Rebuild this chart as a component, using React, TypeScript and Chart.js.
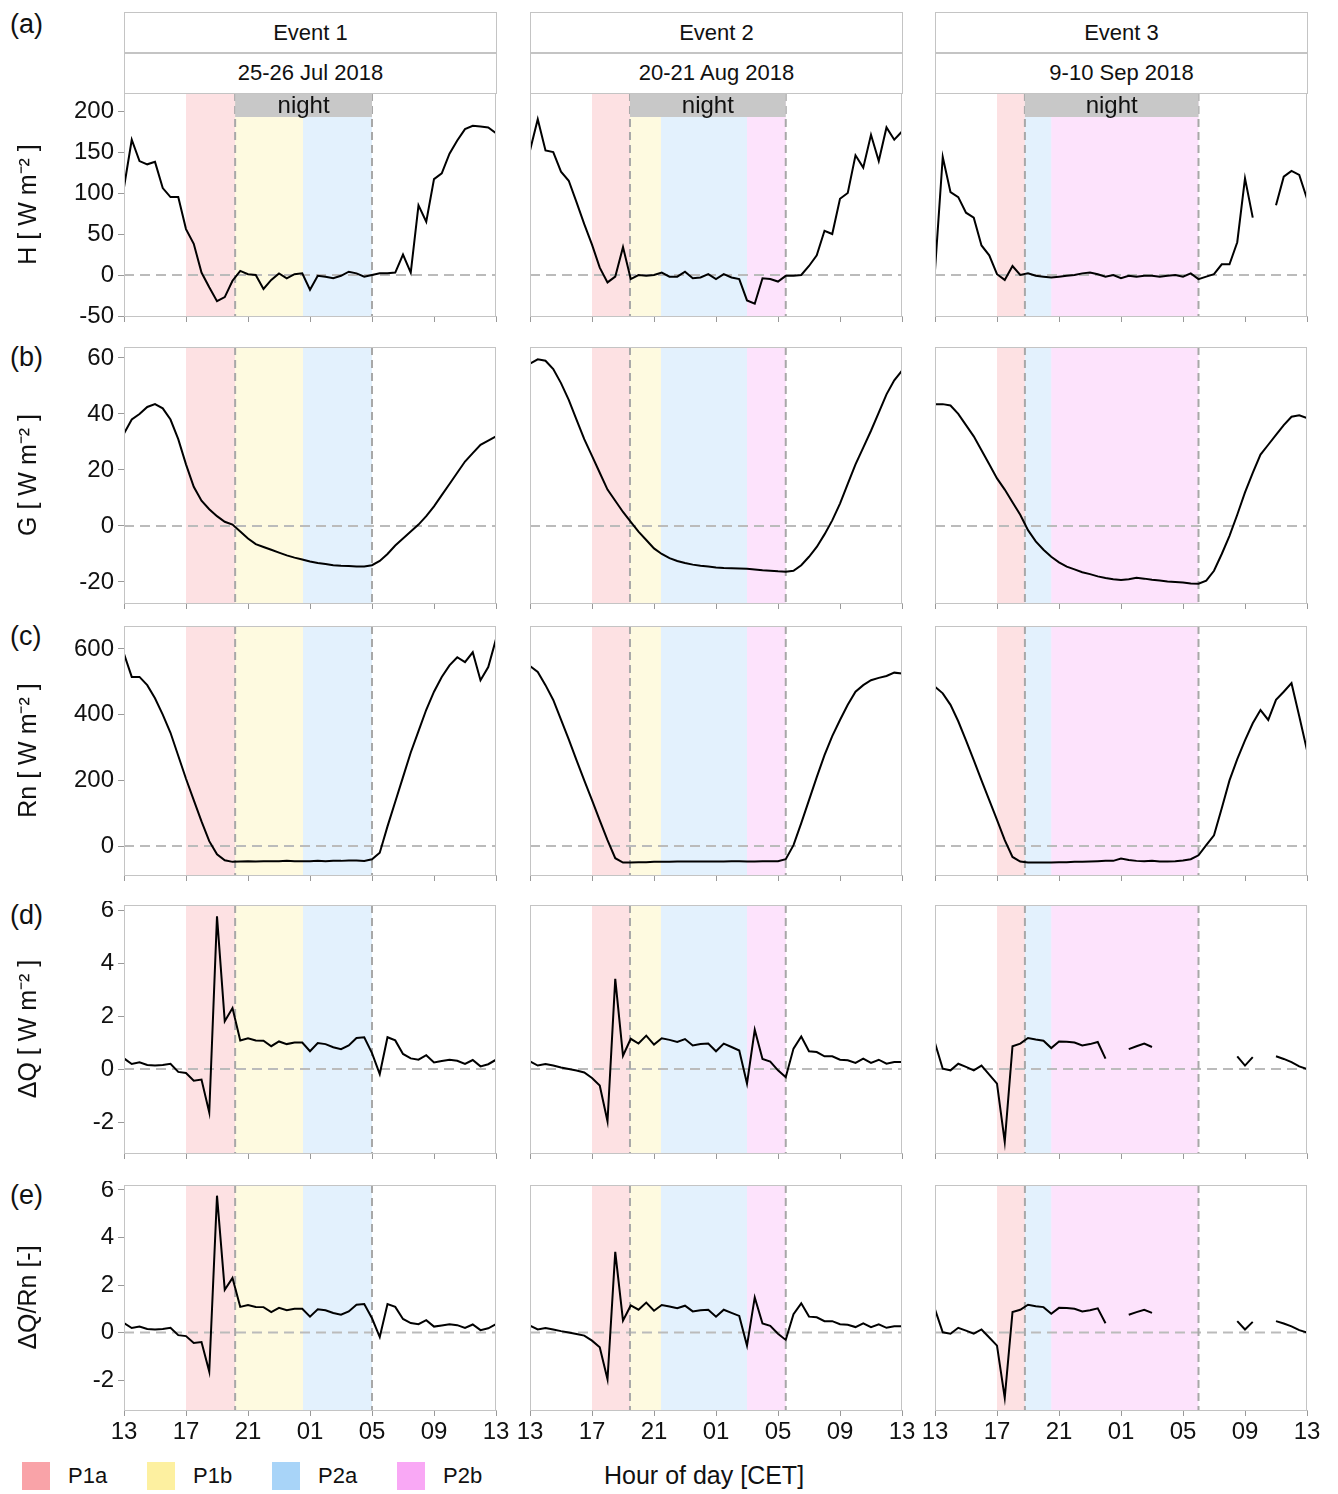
import { Chart, registerables } from 'chart.js'
import { useEffect, useRef } from 'react'

Chart.register(...registerables)

const FONT = '"Liberation Sans", Arial, sans-serif'
Chart.defaults.font.family = FONT

// half-hourly values, 13:00 -> 13:00 next day
const h1 = [107, 165, 139, 135, 138, 106, 95, 95, 56, 38, 3, -15, -32, -27, -7, 5, 1, 0, -17, -6, 2, -4, 1, 2, -18, -1, -2, -4, -1, 4, 2, -2, 0, 2, 2, 3, 25, 3, 85, 65, 117, 124, 148, 164, 178, 182, 181, 180, 173]
const h2 = [152, 190, 152, 150, 126, 115, 89, 62, 37, 9, -9, -2, 34, -5, 0, -1, 0, 3, -2, -2, 4, -4, -3, 1, -5, 1, -3, -5, -31, -35, -4, -5, -8, -1, -1, 0, 11, 24, 54, 50, 93, 100, 146, 131, 171, 139, 180, 165, 175]
const h3 = [6, 144, 101, 95, 76, 70, 36, 24, 1, -6, 11, 0, 2, -1, -2, -3, -2, -1, 0, 2, 3, 1, -2, 0, -4, -1, -2, -1, -1, -2, -1, 0, -2, 2, -5, -2, 1, 13, 13, 40, 118, 70, null, null, 85, 120, 127, 122, 93]

const g1 = [33, 38, 40, 42.5, 43.5, 42, 38, 31, 22, 14, 9, 6, 3.5, 1.5, 0.5, -2, -4.5, -6.5, -7.5, -8.5, -9.5, -10.5, -11.3, -12, -12.7, -13.2, -13.6, -14, -14.2, -14.3, -14.5, -14.5, -14, -12.5, -10, -7, -4.5, -2, 0.5, 3.5, 7, 11, 15, 19, 23, 26, 29, 30.5, 32]
const g2 = [58, 59.5, 59, 56, 51, 45, 38, 31, 25, 19, 13, 9, 5, 1.5, -2, -5, -8, -10, -11.5, -12.5, -13.2, -13.8, -14.2, -14.5, -14.8, -15, -15.1, -15.2, -15.3, -15.5, -15.8, -16, -16.2, -16.3, -16, -14, -11, -7.5, -3, 2, 8, 15, 22, 28, 34, 40.5, 47, 52, 55.5]
const g3 = [43.5, 43.5, 43, 40, 36, 32, 27, 22, 17, 13, 8.5, 4, -1.5, -5.5, -8.5, -11, -13, -14.5, -15.5, -16.5, -17.2, -18, -18.6, -19, -19.3, -19, -18.5, -18.8, -19.2, -19.5, -19.8, -20, -20.2, -20.5, -20.6, -19.5, -16, -10, -3.5, 4, 12, 19, 25.5, 29, 32.5, 36, 39, 39.5, 38.5]

const rn1 = [585, 515, 515, 490, 450, 400, 345, 275, 205, 140, 75, 15, -25, -43, -48, -47, -46, -47, -46, -46, -46, -45, -46, -46, -46, -45, -46, -45, -45, -44, -44, -45, -40, -20, 60, 135, 210, 285, 350, 415, 470, 515, 550, 575, 560, 590, 505, 545, 630]
const rn2 = [548, 530, 490, 445, 385, 325, 262, 200, 140, 78, 18, -37, -50, -50, -49, -49, -48, -48, -48, -47, -47, -47, -47, -47, -47, -47, -46, -46, -47, -47, -46, -46, -46, -40, 3, 70, 140, 210, 277, 335, 384, 430, 470, 490, 505, 512, 518, 528, 525]
const rn3 = [485, 465, 430, 380, 322, 262, 200, 140, 80, 18, -33, -47, -50, -50, -50, -50, -49, -49, -48, -48, -47, -46, -45, -45, -38, -42, -45, -46, -45, -47, -47, -46, -44, -40, -28, 3, 33, 115, 200, 265, 322, 374, 414, 384, 445, 470, 496, 395, 292]

const dq1 = [0.4, 0.19, 0.25, 0.15, 0.13, 0.15, 0.2, -0.11, -0.15, -0.44, -0.4, -1.64, 5.76, 1.8, 2.3, 1.08, 1.16, 1.08, 1.07, 0.86, 1.04, 0.94, 1.0, 1.0, 0.67, 0.98, 0.94, 0.82, 0.75, 0.89, 1.17, 1.2, 0.6, -0.19, 1.2, 1.08, 0.57, 0.4, 0.35, 0.52, 0.25, 0.3, 0.35, 0.31, 0.19, 0.34, 0.1, 0.18, 0.35]
const dq2 = [0.29, 0.13, 0.19, 0.13, 0.06, 0, -0.06, -0.13, -0.34, -0.62, -1.97, 3.4, 0.5, 1.14, 0.96, 1.26, 0.92, 1.16, 1.1, 1.02, 1.13, 0.89, 0.94, 0.96, 0.67, 0.96, 0.83, 0.7, -0.55, 1.48, 0.38, 0.28, -0.05, -0.31, 0.77, 1.23, 0.67, 0.64, 0.48, 0.48, 0.35, 0.33, 0.23, 0.39, 0.23, 0.35, 0.2, 0.26, 0.26]
const dq3 = [0.98, 0.01, -0.05, 0.2, 0.08, -0.05, 0.13, -0.21, -0.55, -2.75, 0.86, 0.96, 1.17, 1.11, 1.07, 0.79, 1.04, 1.03, 1.0, 0.89, 0.94, 1.02, 0.39, null, null, 0.75, 0.86, 0.96, 0.83, null, null, null, null, null, null, null, null, null, null, 0.48, 0.13, 0.45, null, null, 0.48, 0.38, 0.26, 0.1, 0]

const dqrn1 = [0.4, 0.19, 0.25, 0.15, 0.13, 0.15, 0.2, -0.11, -0.15, -0.44, -0.4, -1.64, 5.76, 1.8, 2.3, 1.08, 1.16, 1.08, 1.07, 0.86, 1.04, 0.94, 1.0, 1.0, 0.67, 0.98, 0.94, 0.82, 0.75, 0.89, 1.17, 1.2, 0.6, -0.19, 1.2, 1.08, 0.57, 0.4, 0.35, 0.52, 0.25, 0.3, 0.35, 0.31, 0.19, 0.34, 0.1, 0.18, 0.35]
const dqrn2 = [0.29, 0.13, 0.19, 0.13, 0.06, 0, -0.06, -0.13, -0.34, -0.62, -1.97, 3.4, 0.5, 1.14, 0.96, 1.26, 0.92, 1.16, 1.1, 1.02, 1.13, 0.89, 0.94, 0.96, 0.67, 0.96, 0.83, 0.7, -0.55, 1.48, 0.38, 0.28, -0.05, -0.31, 0.77, 1.23, 0.67, 0.64, 0.48, 0.48, 0.35, 0.33, 0.23, 0.39, 0.23, 0.35, 0.2, 0.26, 0.26]
const dqrn3 = [0.98, 0.01, -0.05, 0.2, 0.08, -0.05, 0.13, -0.21, -0.55, -2.75, 0.86, 0.96, 1.17, 1.11, 1.07, 0.79, 1.04, 1.03, 1.0, 0.89, 0.94, 1.02, 0.39, null, null, 0.75, 0.86, 0.96, 0.83, null, null, null, null, null, null, null, null, null, null, 0.48, 0.13, 0.45, null, null, 0.48, 0.38, 0.26, 0.1, 0]

const events = ['Event 1', 'Event 2', 'Event 3']
const dates = ['25-26 Jul 2018', '20-21 Aug 2018', '9-10 Sep 2018']
// periods in hours after 13:00
const periods1 = [['P1a', 4, 7.17], ['P1b', 7.17, 11.55], ['P2a', 11.55, 16]]
const periods2 = [['P1a', 4, 6.45], ['P1b', 6.45, 8.45], ['P2a', 8.45, 14], ['P2b', 14, 16.5]]
const periods3 = [['P1a', 4, 5.8], ['P2a', 5.8, 7.5], ['P2b', 7.5, 17]]
const nights = [[7.17, 16], [6.45, 16.5], [5.8, 17]]
const xTicks = [0, 4, 8, 12, 16, 20, 24]

const periodFill: Record<string, string> = {
  P1a: 'rgba(249,163,168,0.32)', P1b: 'rgba(253,240,160,0.32)',
  P2a: 'rgba(168,212,248,0.32)', P2b: 'rgba(249,168,245,0.32)',
}
const legendColor: Record<string, string> = {
  P1a: '#f9a3a8', P1b: '#fdf0a0', P2a: '#a8d4f8', P2b: '#f9a8f5',
}

const cols = [124, 530, 935]
const colW = 372
const rows = [
  { top: 93, h: 223, min: -50, max: 222, ticks: [-50, 0, 50, 100, 150, 200], title: 'H [ W m⁻² ]', data: [h1, h2, h3], letter: '(a)', ly: 25 },
  { top: 347, h: 256, min: -27.5, max: 63.9, ticks: [-20, 0, 20, 40, 60], title: 'G [ W m⁻² ]', data: [g1, g2, g3], letter: '(b)', ly: 358 },
  { top: 626, h: 249, min: -88, max: 670, ticks: [0, 200, 400, 600], title: 'Rn [ W m⁻² ]', data: [rn1, rn2, rn3], letter: '(c)', ly: 637 },
  { top: 905, h: 248, min: -3.17, max: 6.19, ticks: [-2, 0, 2, 4, 6], title: 'ΔQ [ W m⁻² ]', data: [dq1, dq2, dq3], letter: '(d)', ly: 916 },
  { top: 1185, h: 225, min: -3.26, max: 6.21, ticks: [-2, 0, 2, 4, 6], title: 'ΔQ/Rn [-]', data: [dqrn1, dqrn2, dqrn3], letter: '(e)', ly: 1196 },
]
const allPeriods = [periods1, periods2, periods3]

interface PanelProps { row: number; col: number }

function Panel({ row, col }: PanelProps) {
  const ref = useRef<HTMLCanvasElement | null>(null)
  const r = rows[row]
  const L = col === 0 ? 124 : 20
  const R = 20
  const T = 4
  const B = row === 4 ? 44 : 10
  const width = L + colW + R
  const height = T + r.h + B

  useEffect(() => {
    if (!ref.current) return
    const values = r.data[col]
    const periods = allPeriods[col]
    const night = nights[col]
    const bands = {
      id: 'bands',
      beforeDatasetsDraw(chart: any) {
        const { ctx, chartArea: a, scales } = chart
        const xs = scales.x, ys = scales.y
        ctx.save()
        for (const p of periods) {
          const x0 = xs.getPixelForValue(p[1]), x1 = xs.getPixelForValue(p[2])
          ctx.fillStyle = periodFill[p[0] as string]
          ctx.fillRect(x0, a.top, x1 - x0, a.bottom - a.top)
        }
        ctx.strokeStyle = '#bbbbbb'
        ctx.lineWidth = 2
        ctx.setLineDash([10, 6])
        const y0 = ys.getPixelForValue(0)
        ctx.beginPath(); ctx.moveTo(a.left, y0); ctx.lineTo(a.right, y0); ctx.stroke()
        ctx.strokeStyle = '#a8a8a8'
        ctx.setLineDash([8, 5])
        for (const n of night) {
          const x = xs.getPixelForValue(n)
          ctx.beginPath(); ctx.moveTo(x, a.top); ctx.lineTo(x, a.bottom); ctx.stroke()
        }
        ctx.restore()
      },
      afterDraw(chart: any) {
        const { ctx, chartArea: a, scales } = chart
        ctx.save()
        if (row === 0) {
          const x0 = scales.x.getPixelForValue(night[0]), x1 = scales.x.getPixelForValue(night[1])
          ctx.fillStyle = '#c8c8c8'
          ctx.fillRect(x0, a.top, x1 - x0, 24)
          ctx.fillStyle = '#111'
          ctx.font = `24px ${FONT}`
          ctx.textAlign = 'center'
          ctx.textBaseline = 'middle'
          ctx.fillText('night', (x0 + x1) / 2, a.top + 13)
        }
        ctx.strokeStyle = '#c4c4c4'
        ctx.lineWidth = 1
        ctx.strokeRect(a.left + 0.5, a.top + 0.5, a.right - a.left - 1, a.bottom - a.top)
        ctx.restore()
      },
    }
    const chart = new Chart(ref.current, {
      type: 'line',
      data: {
        datasets: [{
          data: values.map((v, i) => ({ x: i * 0.5, y: v })),
          borderColor: '#000',
          borderWidth: 2,
          pointRadius: 0,
          spanGaps: false,
          tension: 0,
        }],
      },
      options: {
        responsive: false,
        animation: false,
        events: [],
        layout: { padding: { top: T, right: R, left: 0, bottom: 0 } },
        plugins: { legend: { display: false }, tooltip: { enabled: false } },
        scales: {
          x: {
            type: 'linear', min: 0, max: 24,
            afterBuildTicks: (s: any) => { s.ticks = xTicks.map(v => ({ value: v })) },
            afterFit: (s: any) => { s.height = B; s.paddingLeft = 0; s.paddingRight = 0 },
            grid: { drawOnChartArea: false, tickLength: 6, color: '#999' },
            border: { color: '#bbb' },
            ticks: {
              color: row === 4 ? '#111' : 'rgba(0,0,0,0)',
              font: { size: 24 }, maxRotation: 0, padding: 2,
              callback: (v: any) => String((13 + Number(v)) % 24).padStart(2, '0'),
            },
          },
          y: {
            min: r.min, max: r.max,
            afterBuildTicks: (s: any) => { s.ticks = col === 0 ? r.ticks.map(v => ({ value: v })) : [] },
            afterFit: (s: any) => { s.width = L; s.paddingTop = 0; s.paddingBottom = 0 },
            grid: { drawOnChartArea: false, tickLength: 6, color: '#999', display: col === 0 },
            border: { color: '#bbb' },
            ticks: { display: col === 0, color: '#111', font: { size: 24 }, padding: 4, callback: (v: any) => String(v) },
            title: { display: col === 0, text: r.title, color: '#111', font: { size: 25 }, padding: { top: 14, bottom: 0 } },
          },
        },
      },
      plugins: [bands],
    })
    return () => chart.destroy()
  }, [row, col])

  return (
    <canvas
      ref={ref}
      width={width}
      height={height}
      style={{ position: 'absolute', left: cols[col] - L, top: r.top - T, width, height }}
    />
  )
}

export default function App() {
  const boxStyle = (top: number, left: number): React.CSSProperties => ({
    position: 'absolute', left, top, width: colW - 1, height: 40, border: '1px solid #c4c4c4',
    display: 'flex', alignItems: 'center', justifyContent: 'center', fontSize: 22, color: '#111',
  })
  return (
    <div style={{ position: 'absolute', left: 0, top: 0, width: 1338, height: 1494, background: '#fff', fontFamily: FONT }}>
      {cols.map((c, i) => (
        <div key={'h' + i}>
          <div style={boxStyle(12, c)}>{events[i]}</div>
          <div style={boxStyle(52, c)}>{dates[i]}</div>
        </div>
      ))}
      {rows.map((r, ri) => (
        <div key={'l' + ri} style={{ position: 'absolute', left: 10, top: r.ly - 16, fontSize: 27, color: '#111' }}>{r.letter}</div>
      ))}
      {rows.map((_, ri) => cols.map((_, ci) => <Panel key={ri + '-' + ci} row={ri} col={ci} />))}
      {['P1a', 'P1b', 'P2a', 'P2b'].map((p, i) => (
        <div key={p} style={{ position: 'absolute', left: 22 + i * 125, top: 1462, display: 'flex', alignItems: 'center' }}>
          <div style={{ width: 28, height: 28, background: legendColor[p] }} />
          <span style={{ marginLeft: 18, fontSize: 22, color: '#111' }}>{p}</span>
        </div>
      ))}
      <div style={{ position: 'absolute', left: 604, top: 1461, fontSize: 25, color: '#111' }}>Hour of day [CET]</div>
    </div>
  )
}
